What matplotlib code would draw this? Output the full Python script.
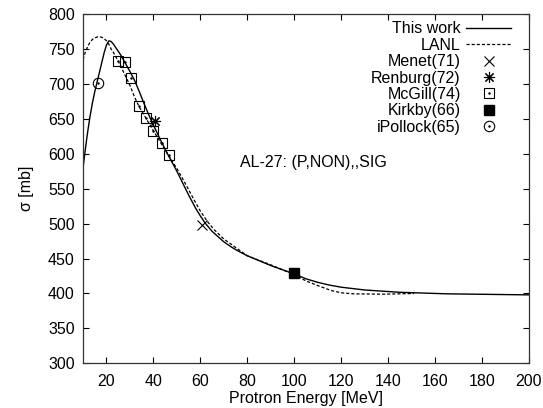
import numpy as np
import matplotlib
matplotlib.use('Agg')
import matplotlib.pyplot as plt

plt.rcParams['font.family'] = ['Liberation Sans', 'DejaVu Sans']
plt.rcParams['font.size'] = 11.5

# "This work" curve
work_x = [10, 11, 12, 13, 14, 15, 16, 17, 18, 19, 20, 21, 22, 23, 24, 25, 26, 27,
          28, 30, 32, 34, 36, 38, 40, 43, 46, 50, 55, 58, 60, 62, 65, 68, 70, 73,
          76, 80, 85, 90, 95, 100, 105, 110, 115, 120, 130, 145, 165, 200]
work_y = [580, 607, 632, 654, 673, 689, 703, 717, 731, 745, 756, 762, 761, 757,
          752, 747, 742, 736, 730, 718, 705, 689, 672, 656, 641, 620, 600, 575,
          541, 522, 511, 501, 489, 480, 474, 467, 461, 454, 447, 440, 434, 428,
          421, 416, 412, 409, 405, 401.7, 399.5, 398]

# LANL evaluation
lanl_x = [10, 11, 12, 13, 14, 15, 16, 17, 18, 19, 20, 21, 22, 23, 24, 26, 28, 30,
          32, 34, 37, 40, 42, 46, 50, 54, 57, 60, 63, 66, 70, 75, 80, 90, 100,
          105, 111, 116, 120, 125, 138, 151]
lanl_y = [735, 746, 754, 760, 764, 766, 767.5, 768, 767, 765, 762, 757, 750, 745,
          739, 726, 712, 698, 681, 667, 650, 633, 622, 600, 579, 555, 536, 518,
          503, 491, 478, 466, 454, 441, 427, 418, 410, 404, 401, 399.5, 399, 400]

# measurements
menet_x, menet_y = [60.7], [498]
renburg_x, renburg_y = [40.5], [647]
mcgill_x = [25, 28, 30.5, 34, 37, 40, 43.5, 46.5]
mcgill_y = [733, 732, 709, 669, 651, 633, 615, 599]
kirkby_x, kirkby_y = [100], [430]
pollock_x, pollock_y = [16.5], [701]

fig = plt.figure(figsize=(5.43, 4.08), dpi=100)
ax = fig.add_axes([0.1529, 0.1096, 0.8213, 0.8554])

l1, = ax.plot(work_x, work_y, color='k', lw=1.0)
l2, = ax.plot(lanl_x, lanl_y, color='k', lw=0.9, dashes=(2.5, 1.6))
m1, = ax.plot(menet_x, menet_y, ls='', marker='x', ms=7, mew=0.8, color='k')
m2, = ax.plot(renburg_x, renburg_y, ls='', marker=(8, 2, 0), ms=8, mew=0.8, color='k')
m3, = ax.plot(mcgill_x, mcgill_y, ls='', marker='s', ms=7.5, mew=0.8, mfc='none', mec='k')
m3d, = ax.plot(mcgill_x, mcgill_y, ls='', marker='.', ms=1.5, color='k')
m4, = ax.plot(kirkby_x, kirkby_y, ls='', marker='s', ms=7.5, color='k')
m5, = ax.plot(pollock_x, pollock_y, ls='', marker='o', ms=7.5, mew=0.8, mfc='none', mec='k')
m5d, = ax.plot(pollock_x, pollock_y, ls='', marker='.', ms=1.5, color='k')

ax.text(108, 587, 'AL-27: (P,NON),,SIG', ha='center', va='center')

ax.set_xlim(10, 200)
ax.set_ylim(300, 800)
ax.set_xticks(np.arange(20, 201, 20))
ax.set_yticks(np.arange(300, 801, 50))
ax.tick_params(direction='in', top=True, right=True, length=4, width=0.8, pad=6)
ax.tick_params(axis='x', pad=8)
for s in ax.spines.values():
    s.set_linewidth(0.9)
    s.set_color('#333333')

ax.set_xlabel('Protron Energy [MeV]', labelpad=1)
ax.set_ylabel('σ [mb]', labelpad=10)

leg = ax.legend([l1, l2, m1, m2, (m3, m3d), m4, (m5, m5d)],
                ['This work', 'LANL', 'Menet(71)', 'Renburg(72)', 'McGill(74)',
                 'Kirkby(66)', 'iPollock(65)'],
                loc='upper right', bbox_to_anchor=(0.985, 1.012), markerfirst=False,
                frameon=False, handlelength=2.8, handletextpad=0.35,
                labelspacing=0.09, borderpad=0.2)

fig.savefig('out.png', dpi=100)
